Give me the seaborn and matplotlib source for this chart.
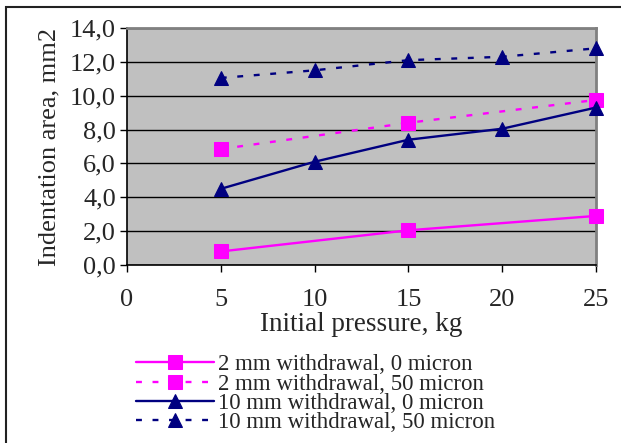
import matplotlib
matplotlib.use("Agg")
import matplotlib.pyplot as plt
import seaborn as sns
import pandas as pd
from matplotlib.patches import Rectangle

# Data
x_2mm = [5, 15, 25]
y_2mm_0 = [0.8, 2.05, 2.9]
y_2mm_50 = [6.85, 8.4, 9.75]
x_10mm = [5, 10, 15, 20, 25]
y_10mm_0 = [4.5, 6.1, 7.4, 8.05, 9.3]
y_10mm_50 = [11.05, 11.5, 12.1, 12.3, 12.8]
labels = ["2 mm withdrawal, 0 micron", "2 mm withdrawal, 50 micron",
          "10 mm withdrawal, 0 micron", "10 mm withdrawal, 50 micron"]
x_ticks = [0, 5, 10, 15, 20, 25]
y_ticks = [0, 2, 4, 6, 8, 10, 12, 14]

sns.set_style("white")
plt.rcParams['font.family'] = ['Liberation Serif', 'DejaVu Serif']

fig = plt.figure(figsize=(6.21, 4.43), dpi=100)
ax = fig.add_axes([127/621, 1-265/443, (596-127)/621, (265-28)/443])
ax.set_facecolor('#C0C0C0')

series = [
    (x_2mm, y_2mm_0, labels[0], '#FF00FF', '-', 's'),
    (x_2mm, y_2mm_50, labels[1], '#FF00FF', (0, (2.5, 4.5)), 's'),
    (x_10mm, y_10mm_0, labels[2], '#000080', '-', '^'),
    (x_10mm, y_10mm_50, labels[3], '#000080', (0, (2.5, 4.5)), '^'),
]
for xs, ys, lab, col, ls, mk in series:
    df = pd.DataFrame({'x': xs, 'y': ys})
    sns.lineplot(data=df, x='x', y='y', ax=ax, color=col, linestyle=ls,
                 marker=mk, markersize=10, markeredgecolor=col,
                 markerfacecolor=col, linewidth=1.7, label=lab, zorder=3,
                 clip_on=False)

ax.set_xlim(0, 25)
ax.set_ylim(0, 14)
ax.set_xticks(x_ticks)
ax.set_yticks(y_ticks)
ax.set_yticklabels([f"{v:.1f}".replace('.', ',') for v in y_ticks])
ax.set_xticklabels([str(v) for v in x_ticks])
ax.tick_params(axis='both', labelsize=19, direction='out', length=5,
               width=1, color='black', pad=3, left=True, bottom=True)
ax.tick_params(axis='x', pad=12)
ax.yaxis.grid(True, color='black', linewidth=1)
ax.set_axisbelow(True)
for s in ['top', 'right']:
    ax.spines[s].set_color('#808080')
    ax.spines[s].set_linewidth(2)
for s in ['left', 'bottom']:
    ax.spines[s].set_color('black')
    ax.spines[s].set_linewidth(1.2)

ax.set_xlabel("Initial pressure, kg", fontsize=19.5, labelpad=1)
ax.set_ylabel("Indentation area, mm2", fontsize=19, labelpad=7)

leg = ax.legend(loc='upper left', bbox_to_anchor=(125/621, 1-343/443),
                bbox_transform=fig.transFigure, frameon=False, fontsize=16.5,
                handlelength=3.4, handletextpad=0.15, labelspacing=-0.08,
                borderpad=0)

# figure border (only left and top visible)
fig.patches.append(Rectangle((6/621, -0.1), 1.2, 1 - 7/443 + 0.1,
                             transform=fig.transFigure, fill=False,
                             edgecolor='#222222', linewidth=1.5))

fig.savefig("out.png", dpi=100)
